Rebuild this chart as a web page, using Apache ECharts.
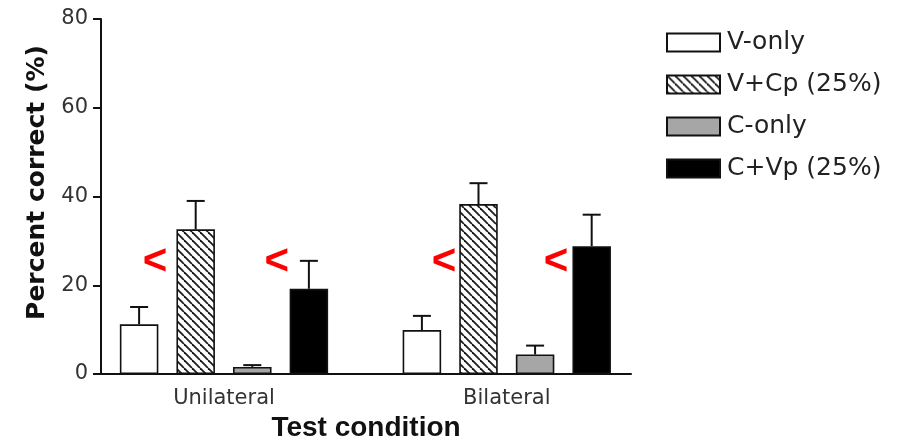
<!DOCTYPE html>
<html>
<head>
<meta charset="utf-8">
<script src="https://cdn.jsdelivr.net/npm/echarts@6/dist/echarts.min.js"></script>
<style>
  html, body { margin: 0; padding: 0; background: #fff; }
  #chart { width: 902px; height: 445px; }
</style>
</head>
<body>
<div id="chart"></div>
<script>
// data
const categories = ["Unilateral", "Bilateral"];
const groupX = [1, 2];
const seriesNames = ["V-only", "V+Cp (25%)", "C-only", "C+Vp (25%)"];
const vOnly = [11.2, 9.9];
const vOnlyErr = [3.9, 3.2];
const vCp = [32.6, 38.3];
const vCpErr = [6.4, 4.7];
const cOnly = [1.6, 4.4];
const cOnlyErr = [0.4, 2.0];
const cVp = [19.2, 28.8];
const cVpErr = [6.3, 7.1];
const yTicks = [0, 20, 40, 60, 80];
// red "<" annotations (x in group units, y in percent)
const markerX = [0.756, 1.187, 1.778, 2.174];
const markerY = [25.6, 25.6, 25.6, 25.6];

const means = [vOnly, vCp, cOnly, cVp];
const errs = [vOnlyErr, vCpErr, cOnlyErr, cVpErr];

const BAR_W = 38.5;
const BAR_GAP = 0.47;
const FONT = "DejaVu Sans";

// diagonal hatch for V+Cp
const hatch = document.createElement("canvas");
hatch.width = 8;
hatch.height = 8;
const hc = hatch.getContext("2d");
hc.fillStyle = "#fff";
hc.fillRect(0, 0, 8, 8);
hc.strokeStyle = "#1a1a1a";
hc.lineWidth = 1.8;
for (let k = -1; k <= 1; k++) {
  hc.beginPath();
  hc.moveTo(k * 8, 0);
  hc.lineTo(k * 8 + 8, 8);
  hc.stroke();
}

const fills = ["#ffffff", { image: hatch, repeat: "repeat" }, "#a6a6a6", "#000000"];

const chart = echarts.init(document.getElementById("chart"));

const barSeries = seriesNames.map((name, i) => ({
  name: name,
  type: "bar",
  barWidth: BAR_W,
  barGap: BAR_GAP * 100 + "%",
  data: groupX.map((x, j) => [x, means[i][j]]),
  itemStyle: {
    color: fills[i],
    borderColor: "#111",
    borderWidth: 1.6,
  },
  emphasis: { disabled: true },
}));

// upward error bars, shifted to sit on their bar
const errSeries = seriesNames.map((name, i) => ({
  type: "custom",
  silent: true,
  z: 3,
  data: groupX.map((x, j) => [x, means[i][j], errs[i][j]]),
  renderItem: (params, api) => {
    const shift = (i - 1.5) * BAR_W * (1 + BAR_GAP);
    const base = api.coord([api.value(0), api.value(1)]);
    const top = api.coord([api.value(0), api.value(1) + api.value(2)]);
    const x = base[0] + shift;
    const style = { stroke: "#111", lineWidth: 2 };
    return {
      type: "group",
      children: [
        { type: "line", shape: { x1: x, y1: base[1], x2: x, y2: top[1] }, style },
        { type: "line", shape: { x1: x - 9, y1: top[1], x2: x + 9, y2: top[1] }, style },
      ],
    };
  },
}));

const markerSeries = {
  type: "custom",
  silent: true,
  z: 4,
  data: markerX.map((x, i) => [x, markerY[i]]),
  renderItem: (params, api) => {
    const p = api.coord([api.value(0), api.value(1)]);
    return {
      type: "text",
      style: {
        text: "<",
        x: p[0],
        y: p[1] + 2,
        align: "center",
        verticalAlign: "middle",
        fill: "#ff0000",
        font: "bold 42px 'Liberation Sans'",
      },
    };
  },
};

const options = {
  animation: false,
  backgroundColor: "#fff",
  grid: {
    left: 101,
    right: 271,
    top: 19,
    bottom: 71,
    outerBoundsMode: "none",
  },
  legend: {
    orient: "vertical",
    left: 661,
    top: 25,
    icon: "rect",
    itemWidth: 53,
    itemHeight: 18,
    itemGap: 17,
    data: seriesNames,
    selectedMode: false,
    textStyle: {
      fontFamily: FONT,
      fontSize: 25,
      lineHeight: 24,
      color: "#222",
      padding: [0, 0, 0, 2],
    },
  },
  xAxis: {
    type: "value",
    min: 0.5651,
    max: 2.4392,
    name: "Test condition",
    nameLocation: "middle",
    nameGap: 31,
    nameTextStyle: {
      fontFamily: "Liberation Sans",
      fontWeight: "bold",
      fontSize: 28,
      color: "#111",
    },
    axisLine: { lineStyle: { color: "#111", width: 2 } },
    axisTick: { show: false },
    splitLine: { show: false },
    axisLabel: {
      customValues: groupX,
      formatter: (v) => categories[groupX.indexOf(v)],
      fontFamily: FONT,
      fontSize: 21,
      color: "#333",
      margin: 14,
    },
  },
  yAxis: {
    type: "value",
    min: yTicks[0],
    max: yTicks[yTicks.length - 1],
    interval: 20,
    name: "Percent correct (%)",
    nameLocation: "middle",
    nameGap: 46,
    nameTextStyle: {
      fontFamily: FONT,
      fontWeight: "bold",
      fontSize: 25,
      color: "#111",
      padding: [0, 0, 0, 28],
    },
    axisLine: { show: true, lineStyle: { color: "#111", width: 2 } },
    axisTick: { show: true, length: 8, lineStyle: { color: "#111", width: 2 } },
    splitLine: { show: false },
    axisLabel: {
      fontFamily: FONT,
      fontSize: 21,
      color: "#333",
      margin: 13,
    },
  },
  series: [...barSeries, ...errSeries, markerSeries],
};

chart.setOption(options);
</script>
</body>
</html>
